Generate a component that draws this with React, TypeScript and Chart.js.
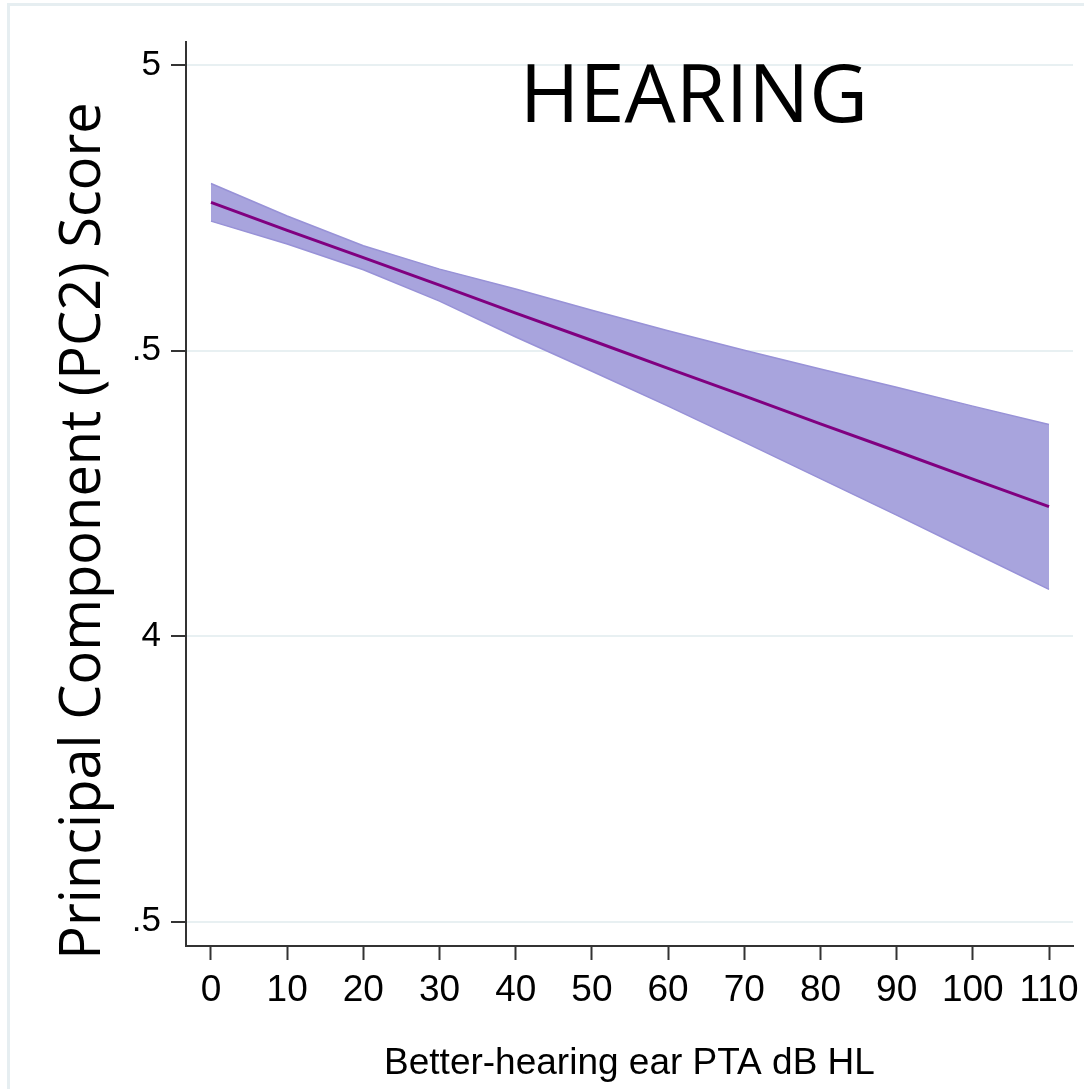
import React, { useEffect, useRef } from "react";
import { Chart, registerables } from "chart.js";

Chart.register(...registerables);

// ---- data ----
const xValues = [0, 10, 20, 30, 40, 50, 60, 70, 80, 90, 100, 110];
const fitLine = [4.76, 4.711, 4.663, 4.615, 4.566, 4.518, 4.469, 4.421, 4.372, 4.324, 4.275, 4.227];
const ciUpper = [4.793, 4.736, 4.684, 4.643, 4.608, 4.571, 4.535, 4.501, 4.468, 4.436, 4.403, 4.371];
const ciLower = [4.727, 4.687, 4.642, 4.587, 4.524, 4.464, 4.403, 4.34, 4.276, 4.212, 4.147, 4.082];

const xTickValues = [0, 10, 20, 30, 40, 50, 60, 70, 80, 90, 100, 110];
const yTickValues = [3.5, 4, 4.5, 5];
const yTickLabels = [".5", "4", ".5", "5"];

const chartTitle = "HEARING";
const xAxisTitle = "Better-hearing ear PTA dB HL";
const yAxisTitle = "Principal Component (PC2) Score";

const W = 1084;
const H = 1089;
const AXIS_FONT = '"Liberation Sans", Arial, sans-serif';
const TITLE_FONT = '"Open Sans", "Noto Sans", sans-serif';

const decorPlugin = {
  id: "decor",
  beforeDraw(chart: any) {
    const ctx = chart.ctx;
    ctx.save();
    ctx.strokeStyle = "#e6eef1";
    ctx.lineWidth = 3;
    ctx.beginPath();
    ctx.moveTo(8.5, H);
    ctx.lineTo(8.5, 4.5);
    ctx.lineTo(W, 4.5);
    ctx.stroke();
    ctx.restore();
  },
  afterDraw(chart: any) {
    const ctx = chart.ctx;
    ctx.save();
    ctx.fillStyle = "#000";
    ctx.font = `81px ${TITLE_FONT}`;
    ctx.textAlign = "center";
    ctx.textBaseline = "alphabetic";
    ctx.fillText(chartTitle, 694, 122);

    ctx.translate(100, 531);
    ctx.rotate(-Math.PI / 2);
    ctx.font = `56px ${TITLE_FONT}`;
    ctx.textAlign = "center";
    ctx.textBaseline = "alphabetic";
    ctx.fillText(yAxisTitle, 0, 0);
    ctx.restore();
  },
};

export default function App() {
  const canvasRef = useRef<HTMLCanvasElement | null>(null);

  useEffect(() => {
    const canvas = canvasRef.current;
    if (!canvas) return;
    const toPts = (ys: number[]) => xValues.map((x, i) => ({ x, y: ys[i] }));

    const chart = new Chart(canvas, {
      type: "line",
      data: {
        datasets: [
          {
            label: "Fitted values",
            data: toPts(fitLine),
            borderColor: "rgb(128,0,128)",
            borderWidth: 3,
            pointRadius: 0,
            fill: false,
            order: 0,
          },
          {
            label: "CI lower",
            data: toPts(ciLower),
            borderColor: "rgb(152,146,215)",
            borderWidth: 1.5,
            pointRadius: 0,
            fill: false,
            order: 1,
          },
          {
            label: "95% CI",
            data: toPts(ciUpper),
            borderColor: "rgb(152,146,215)",
            borderWidth: 1.5,
            backgroundColor: "rgb(168,164,221)",
            pointRadius: 0,
            fill: "-1",
            order: 2,
          },
        ],
      },
      options: {
        responsive: false,
        animation: false,
        events: [],
        layout: { padding: { top: 42, right: 11, left: 0, bottom: 0 } },
        plugins: {
          legend: { display: false },
          tooltip: { enabled: false },
          title: { display: false },
        },
        scales: {
          x: {
            type: "linear",
            min: -3.28,
            max: 113.15,
            afterBuildTicks: (s: any) => {
              s.ticks = xTickValues.map((v) => ({ value: v }));
            },
            afterFit: (s: any) => {
              s.height = H - 946;
              s.paddingLeft = 0;
              s.paddingRight = 0;
            },
            grid: {
              drawOnChartArea: false,
              drawTicks: true,
              tickLength: 14,
              tickColor: "#333",
              tickWidth: 2,
            },
            border: { display: true, color: "#333", width: 2 },
            ticks: {
              font: { family: AXIS_FONT, size: 37 },
              color: "#000",
              padding: 9,
              maxRotation: 0,
              autoSkip: false,
              callback: (v: any) => String(v),
            },
            title: {
              display: true,
              text: xAxisTitle,
              font: { family: AXIS_FONT, size: 37, lineHeight: 1 },
              color: "#000",
              padding: { top: 0, bottom: 7 },
            },
          },
          y: {
            type: "linear",
            min: 3.4574,
            max: 5.0408,
            afterBuildTicks: (s: any) => {
              s.ticks = yTickValues.map((v) => ({ value: v }));
            },
            afterFit: (s: any) => {
              s.width = 186;
              s.paddingTop = 0;
              s.paddingBottom = 0;
            },
            grid: {
              color: "#e8f0f2",
              lineWidth: 2,
              drawTicks: true,
              tickLength: 15,
              tickColor: "#333",
              tickWidth: 2,
            },
            border: { display: true, color: "#333", width: 2 },
            ticks: {
              font: { family: AXIS_FONT, size: 35 },
              color: "#000",
              padding: 10,
              autoSkip: false,
              callback: (v: any) => {
                const i = yTickValues.indexOf(Number(v));
                return i >= 0 ? yTickLabels[i] : "";
              },
            },
          },
        },
      },
      plugins: [decorPlugin],
    } as any);

    return () => chart.destroy();
  }, []);

  return (
    <div style={{ position: "absolute", left: 0, top: 0, width: W, height: H, background: "#fff" }}>
      <canvas ref={canvasRef} width={W} height={H} style={{ display: "block", width: W, height: H }} />
    </div>
  );
}
